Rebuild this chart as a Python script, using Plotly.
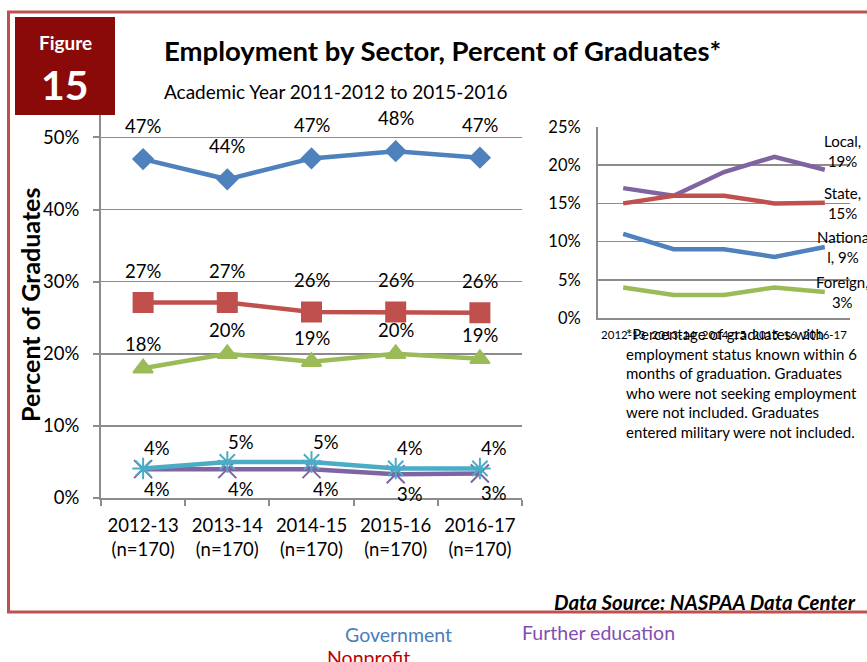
import plotly.graph_objects as go

W, H = 867, 662          # browser window
PAGE_MARGIN = 0          # body margin is removed by the post script below
FW, FH = W - PAGE_MARGIN, H - PAGE_MARGIN

# ---------------- data ----------------
years = ["2012-13", "2013-14", "2014-15", "2015-16", "2016-17"]
n_sizes = [170, 170, 170, 170, 170]

# main chart (percent of graduates)
government = [47.0, 44.2, 47.1, 48.1, 47.2]
nonprofit = [27.1, 27.1, 25.8, 25.8, 25.7]
private = [18.0, 20.0, 18.9, 20.0, 19.3]
other = [4.1, 5.0, 5.0, 4.1, 4.1]
further_education = [4.0, 4.0, 4.0, 3.3, 3.4]
main_ticks = [0, 10, 20, 30, 40, 50]

# inset: government level
local = [17.0, 16.0, 19.1, 21.1, 19.4]
state = [15.0, 16.0, 16.0, 15.0, 15.1]
national = [11.0, 9.0, 9.0, 8.0, 9.3]
foreign = [4.0, 3.0, 3.0, 4.0, 3.4]
inset_ticks = [0, 5, 10, 15, 20, 25]
inset_end_labels = ["Local,<br>19%", "State,<br>15%", "Nationa<br>l, 9%", "Foreign,<br>3%"]

footnote_lines = [
    "*Percentage of graduates with",
    "employment status known within 6",
    "months of graduation. Graduates",
    "who were not seeking employment",
    "were not included. Graduates",
    "entered military were not included.",
]

BLUE = "#4f81bd"
RED = "#c0504d"
GREEN = "#9bbb59"
CYAN = "#4bacc6"
PURPLE = "#8064a2"
GRID = "#8c8c8c"
FONT = "Lato"

main_cats = [f"{y}<br>(n={n})" for y, n in zip(years, n_sizes)]


def px_x(x):
    return (x - PAGE_MARGIN) / FW


def px_y(y):
    return 1 - (y - PAGE_MARGIN) / FH


def ptext(x, y, text, size, color="#000000", xanchor="center", **kw):
    return dict(x=px_x(x), y=px_y(y), xref="paper", yref="paper",
                xanchor=xanchor, yanchor="middle", text=text, showarrow=False,
                font=dict(family=FONT, size=size, color=color), **kw)


fig = go.Figure()

main_series = [
    ("Government", government, BLUE, "diamond", 15, 33, 0),
    ("Nonprofit", nonprofit, RED, "square", 19, 32, 0),
    ("Private", private, GREEN, "triangle-up", 17, 24, 0),
    ("Further education", further_education, PURPLE, "x-thin-open", 18, -20, 14),
    ("Other", other, CYAN, "asterisk-open", 18, 20, 14),
]

for name, vals, col, sym, msize, dy, dx in main_series:
    fig.add_trace(go.Scatter(
        x=main_cats, y=vals, name=name, mode="lines+markers",
        line=dict(color=col, width=4.5),
        marker=dict(symbol=sym, size=msize, color=col,
                    line=dict(color=col, width=2)),
        xaxis="x", yaxis="y", showlegend=False,
    ))

annotations = []
for name, vals, col, sym, msize, dy, dx in main_series:
    for c, v in zip(main_cats, vals):
        annotations.append(dict(
            x=c, y=v, xref="x", yref="y", text=f"{round(v)}%",
            xanchor="center", yanchor="middle",
            showarrow=False, yshift=dy, xshift=dx,
            font=dict(family=FONT, size=18.5, color="#000000"),
        ))

inset_series = [("Local", local, PURPLE), ("State", state, RED),
                ("National", national, BLUE), ("Foreign", foreign, GREEN)]
for (name, vals, col), lab in zip(inset_series, inset_end_labels):
    fig.add_trace(go.Scatter(
        x=years, y=vals, name=name, mode="lines",
        line=dict(color=col, width=4.5),
        xaxis="x2", yaxis="y2", showlegend=False,
    ))
    annotations.append(dict(
        x=years[-1], y=vals[-1], xref="x2", yref="y2", text=lab,
        xanchor="center", yanchor="middle",
        showarrow=False, xshift=18, yshift=19 if name == "Local" else 0,
        align="center",
        font=dict(family=FONT, size=15, color="#000000"),
    ))

# titles & texts
annotations += [
    ptext(65, 42, "<b>Figure</b>", 19, "white"),
    ptext(65, 84, "<b>15</b>", 41, "white"),
    ptext(162, 50, "<b>Employment by Sector, Percent of Graduates*</b>", 27.5, xanchor="left"),
    ptext(162, 92, "Academic Year 2011-2012 to 2015-2016", 19, xanchor="left"),
    ptext(30, 305, "<b>Percent of Graduates</b>", 25, textangle=-90),
    ptext(858, 602, "<b><i>Data Source: NASPAA Data Center</i></b>", 20.5, xanchor="right"),
    ptext(398, 634, "Government", 19.5, "#4a7ebb"),
    ptext(598, 632, "Further education", 19.5, "#7f4fb3"),
    ptext(368, 657, "Nonprofit", 19.5, "#c00000"),
]

line_y = [334, 353.6, 373.2, 392.8, 412.4, 432]
for t, yy in zip(footnote_lines, line_y):
    annotations.append(ptext(624, yy, t, 15, xanchor="left"))

shapes = [
    dict(type="rect", xref="paper", yref="paper",
         x0=px_x(8.5), x1=px_x(890), y0=px_y(612), y1=px_y(12),
         line=dict(color=RED, width=3), fillcolor="rgba(0,0,0,0)", layer="below"),
    dict(type="rect", xref="paper", yref="paper",
         x0=px_x(15), x1=px_x(115), y0=px_y(115), y1=px_y(17),
         line=dict(width=0), fillcolor="#8a0a0a", layer="above"),
]

fig.update_layout(
    width=FW, height=FH,
    margin=dict(l=0, r=0, t=0, b=0, autoexpand=False),
    paper_bgcolor="white", plot_bgcolor="white",
    font=dict(family=FONT, color="#000000"),
    annotations=annotations, shapes=shapes,
    xaxis=dict(
        domain=[px_x(101), px_x(522)], anchor="y", type="category",
        range=[-0.5, len(years) - 0.5],
        showline=True, linecolor=GRID, linewidth=2,
        ticks="outside", tickson="boundaries", ticklen=6, tickcolor=GRID, tickwidth=2,
        showgrid=False, tickfont=dict(family=FONT, size=18.5, color="#000000"),
        tickangle=0, automargin=False, ticklabelstandoff=10,
    ),
    yaxis=dict(
        domain=[px_y(498), px_y(100)], anchor="x", range=[0, 55.2],
        tickmode="array", tickvals=main_ticks, ticktext=[f"{v}%" for v in main_ticks],
        showline=True, linecolor=GRID, linewidth=2,
        ticks="outside", ticklen=6, tickcolor=GRID, tickwidth=2,
        showgrid=True, gridcolor=GRID, gridwidth=1.5, zeroline=False,
        tickfont=dict(family=FONT, size=18.5, color="#000000"),
        ticklabelstandoff=10, automargin=False,
    ),
    xaxis2=dict(
        domain=[px_x(598), px_x(850)], anchor="y2", type="category",
        range=[-0.5, len(years) - 0.5],
        showline=True, linecolor=GRID, linewidth=2, ticks="",
        showgrid=False, tickangle=0, automargin=False, ticklabelstandoff=5,
        tickfont=dict(family=FONT, size=11.5, color="#000000"),
    ),
    yaxis2=dict(
        domain=[px_y(318), px_y(127)], anchor="x2", range=[0, 25],
        tickmode="array", tickvals=inset_ticks, ticktext=[f"{v}%" for v in inset_ticks],
        showline=True, linecolor=GRID, linewidth=2, ticks="",
        showgrid=True, gridcolor=GRID, gridwidth=1.5, zeroline=False,
        tickfont=dict(family=FONT, size=16.5, color="#000000"),
        ticklabelstandoff=12, automargin=False,
    ),
)

fig.write_html(
    "out.html",
    config={"displayModeBar": False, "staticPlot": True},
    post_script=("document.body.style.margin='0';"
                 "document.body.style.overflow='hidden';"
                 "document.documentElement.style.overflow='hidden';"),
)
